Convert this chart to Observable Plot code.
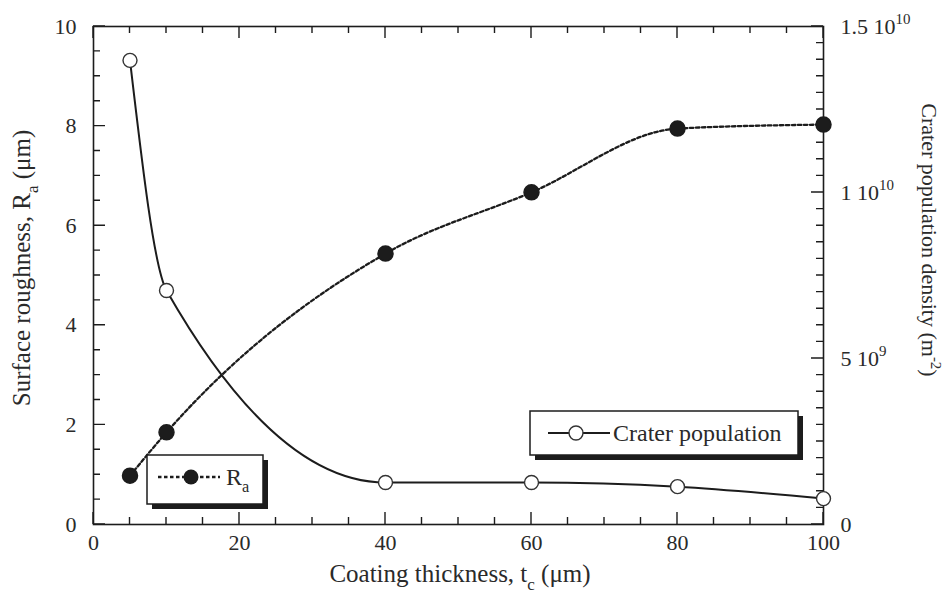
<!DOCTYPE html>
<html>
<head>
<meta charset="utf-8">
<script src="https://cdn.jsdelivr.net/npm/d3@7"></script>
<script src="https://cdn.jsdelivr.net/npm/@observablehq/plot@0.6"></script>
<style>
  body { margin: 0; background: #fff; }
  #chart svg { display: block; }
</style>
</head>
<body>
<div id="chart"></div>
<script>
// Coating thickness (µm) and the two measured quantities
const thickness     = [5, 10, 40, 60, 80, 100];
const roughness     = [0.98, 1.85, 5.44, 6.67, 7.95, 8.03];                  // Ra, µm
const craterDensity = [1.398e10, 7.05e9, 1.265e9, 1.265e9, 1.14e9, 0.78e9]; // m^-2

// Axis ticks and labels
const xTicks = [0, 20, 40, 60, 80, 100];
const xMinorTicks = d3.range(0, 101, 5);
const yTicks = [0, 2, 4, 6, 8, 10];
const yMinorTicks = d3.range(0, 10.01, 0.5);
const densityTicks = [0, 5e9, 1e10, 1.5e10];
const densityTickLabels = ["0", "5 10^{9}", "1 10^{10}", "1.5 10^{10}"];
const densityMinorTicks = d3.range(0, 1.5e10 + 1, 5e8);

const xMax = 100;
const roughnessMax = 10;
const densityMax = 1.5e10;
// the density axis shares the plot's y scale, rescaled to the roughness range
const toLeft = v => v * roughnessMax / densityMax;

const raRows = thickness.map((t, i) => ({t, v: roughness[i]}));
const craterRows = thickness.map((t, i) => ({t, v: toLeft(craterDensity[i])}));

const W = 952, H = 594;
const margin = {left: 93, right: 129, top: 26, bottom: 70};
const innerW = W - margin.left - margin.right;
const innerH = H - margin.top - margin.bottom;

const ink = "#1c1c1c";
const textInk = "#2a2a2a";
const font = "Liberation Serif, Times New Roman, serif";
const minorLen = 7, majorLen = 12;   // tick lengths in pixels

const plot = Plot.plot({
  width: W,
  height: H,
  marginLeft: margin.left,
  marginRight: margin.right,
  marginTop: margin.top,
  marginBottom: margin.bottom,
  style: {fontFamily: font, fontSize: "22px", color: textInk, background: "#fff", overflow: "visible"},
  x: {domain: [0, xMax]},
  y: {domain: [0, roughnessMax]},
  marks: [
    // tick labels
    Plot.axisX(xTicks, {anchor: "bottom", tickSize: 0, tickPadding: 10, label: null, tickFormat: d => String(d)}),
    Plot.axisY(yTicks, {anchor: "left", tickSize: 0, tickPadding: 17, label: null, tickFormat: d => String(d)}),
    Plot.axisY(densityTicks.map(toLeft), {
      anchor: "right", tickSize: 0, tickPadding: 17, label: null,
      tickFormat: d => densityTickLabels[densityTicks.findIndex(v => Math.abs(toLeft(v) - d) < 1e-9)]
    }),

    // crater population density (right axis)
    Plot.line(craterRows, {x: "t", y: "v", curve: "monotone-x", stroke: ink, strokeWidth: 2}),
    // surface roughness (left axis)
    Plot.line(raRows, {x: "t", y: "v", curve: "monotone-x", stroke: ink, strokeWidth: 2.3, strokeDasharray: "3.5,2.5"}),

    Plot.frame({stroke: ink, strokeWidth: 1.6}),

    Plot.dot(raRows, {x: "t", y: "v", r: 7.5, fill: ink, stroke: ink}),
    Plot.dot(craterRows, {x: "t", y: "v", r: 7, fill: "#fff", stroke: "#333", strokeWidth: 1.4})
  ]
});

document.getElementById("chart").appendChild(plot);
const svg = d3.select(plot);

// pixel positions from the plot's own scales
const sx = plot.scale("x"), sy = plot.scale("y");
const px = v => { const p = sx.apply(v); return Number.isFinite(p) ? p : margin.left + v / xMax * innerW; };
const py = v => { const p = sy.apply(v); return Number.isFinite(p) ? p : margin.top + (1 - v / roughnessMax) * innerH; };

// inward tick marks on all four sides
const xL = px(0), xR = px(xMax), yB = py(0), yT = py(roughnessMax);
const tickSegments = [];
for (const [vals, len] of [[xMinorTicks, minorLen], [xTicks, majorLen]]) {
  for (const v of vals) {
    tickSegments.push([px(v), yB, px(v), yB - len]);
    tickSegments.push([px(v), yT, px(v), yT + len]);
  }
}
for (const [vals, len] of [[yMinorTicks, minorLen], [yTicks, majorLen]]) {
  for (const v of vals) tickSegments.push([xL, py(v), xL + len, py(v)]);
}
for (const [vals, len] of [[densityMinorTicks.map(toLeft), minorLen], [densityTicks.map(toLeft), majorLen]]) {
  for (const v of vals) tickSegments.push([xR, py(v), xR - len, py(v)]);
}
svg.append("path")
  .attr("fill", "none").attr("stroke", ink).attr("stroke-width", 1.4)
  .attr("d", tickSegments.map(([a, b, c, d]) => `M${a},${b}L${c},${d}`).join(""));

// write "a_{b}" / "a^{b}" strings as text with sub/superscript tspans
function richText(textSel, str, size) {
  textSel.text(null);
  const parts = str.split(/(\^\{[^}]*\}|_\{[^}]*\})/).filter(s => s.length);
  let shift = 0;
  for (const p of parts) {
    if (p.startsWith("^{") || p.startsWith("_{")) {
      const up = p[0] === "^";
      const d = up ? -0.42 * size : 0.3 * size;
      textSel.append("tspan").attr("dy", d - shift).attr("font-size", size * 0.68).text(p.slice(2, -1));
      shift = d;
    } else {
      textSel.append("tspan").attr("dy", -shift).text(p);
      shift = 0;
    }
  }
}

svg.selectAll("text").each(function () {
  const s = d3.select(this);
  const content = s.text();
  if (content.includes("^{") || content.includes("_{")) richText(s, content, 22);
});

// axis titles
const titles = svg.append("g")
  .attr("font-family", font).attr("fill", textInk).attr("text-anchor", "middle");

richText(titles.append("text").attr("font-size", 25).attr("transform", "translate(460,582)"),
  "Coating thickness, t_{c} (\u03bcm)", 25);
richText(titles.append("text").attr("font-size", 25).attr("transform", "translate(30,268) rotate(-90)"),
  "Surface roughness, R_{a} (\u03bcm)", 25);
richText(titles.append("text").attr("font-size", 22).attr("transform", "translate(922,240) rotate(90)"),
  "Crater population density (m^{-2})", 22);

// legend boxes with drop shadow
function legendBox(x, y, w, h) {
  const g = svg.append("g").attr("text-anchor", "start");
  g.append("rect").attr("x", x + 5).attr("y", y + 5).attr("width", w).attr("height", h).attr("fill", ink);
  g.append("rect").attr("x", x).attr("y", y).attr("width", w).attr("height", h)
    .attr("fill", "#fff").attr("stroke", ink).attr("stroke-width", 1.5);
  return g;
}

const legRa = legendBox(147, 455, 116, 49);
legRa.append("line").attr("x1", 158).attr("x2", 220).attr("y1", 477).attr("y2", 477)
  .attr("stroke", ink).attr("stroke-width", 2.3).attr("stroke-dasharray", "3.5,2.5");
legRa.append("circle").attr("cx", 191).attr("cy", 477).attr("r", 7.5).attr("fill", ink);
richText(legRa.append("text").attr("x", 226).attr("y", 485)
  .attr("font-family", font).attr("font-size", 24).attr("fill", textInk), "R_{a}", 24);

const legCr = legendBox(530, 411, 268, 44);
legCr.append("line").attr("x1", 548).attr("x2", 610).attr("y1", 433).attr("y2", 433)
  .attr("stroke", ink).attr("stroke-width", 2);
legCr.append("circle").attr("cx", 576).attr("cy", 433).attr("r", 7)
  .attr("fill", "#fff").attr("stroke", "#333").attr("stroke-width", 1.4);
legCr.append("text").attr("x", 613).attr("y", 441)
  .attr("font-family", font).attr("font-size", 24).attr("fill", textInk).text("Crater population");
</script>
</body>
</html>
